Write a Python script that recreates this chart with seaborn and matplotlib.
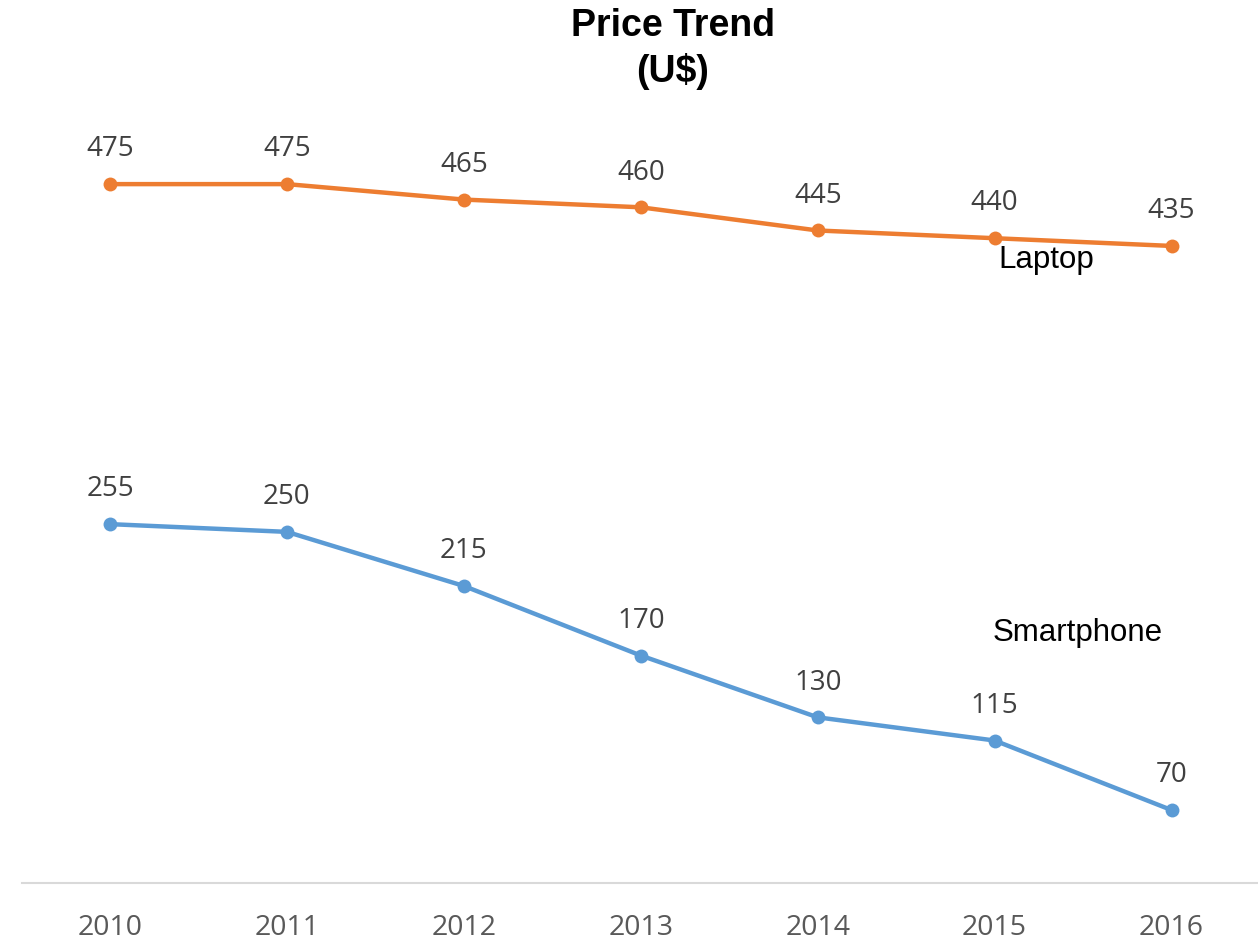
import matplotlib
matplotlib.use("Agg")
import matplotlib.pyplot as plt
import seaborn as sns
import pandas as pd

years = ["2010", "2011", "2012", "2013", "2014", "2015", "2016"]
laptop = [475, 475, 465, 460, 445, 440, 435]
smartphone = [255, 250, 215, 170, 130, 115, 70]
series_names = ["Laptop", "Smartphone"]
colors = {"Laptop": "#ED7D31", "Smartphone": "#5B9BD5"}

sns.set_theme(style="white")
plt.rcParams["font.family"] = ["Open Sans", "DejaVu Sans"]

df = pd.DataFrame({
    "pos": list(range(len(years))) * 2,
    "value": laptop + smartphone,
    "series": [series_names[0]] * len(years) + [series_names[1]] * len(years),
})

fig = plt.figure(figsize=(12.58, 9.44), dpi=100)
ax = fig.add_axes([0.0171, 0.0646, 0.9845, 0.779])

sns.lineplot(data=df, x="pos", y="value", hue="series", palette=colors,
             marker="o", markersize=10, markeredgewidth=0, linewidth=3.2,
             legend=False, ax=ax)

for vals, name in [(laptop, "Laptop"), (smartphone, "Smartphone")]:
    for i, v in enumerate(vals):
        ax.annotate(str(v), (i, v), xytext=(0, 25), textcoords="offset points",
                    ha="center", va="center", fontsize=20, color="#404040")

ax.text(5.29, 425.8, "Laptop", ha="center", va="center", fontsize=22.5,
        family="Liberation Sans", color="black")
ax.text(5.47, 184.8, "Smartphone", ha="center", va="center", fontsize=22.5,
        family="Liberation Sans", color="black")

ax.set_xlim(-0.5, 6.5)
ax.set_ylim(22.8, 498.6)
ax.set_xticks(range(len(years)))
ax.set_xticklabels(years, fontsize=20.5, color="#595959")
ax.set_yticks([])
ax.tick_params(axis="x", length=0, pad=22)
ax.set_xlabel("")
ax.set_ylabel("")
for s in ["top", "right", "left"]:
    ax.spines[s].set_visible(False)
ax.spines["bottom"].set_color("#D9D9D9")
ax.spines["bottom"].set_linewidth(1.5)

fig.text(0.535, 0.948, "Price Trend\n(U$)", ha="center", va="center",
         fontsize=27, fontweight="bold", family="Liberation Sans",
         linespacing=1.33, color="black")

fig.savefig("out.png", dpi=100, facecolor="white")
